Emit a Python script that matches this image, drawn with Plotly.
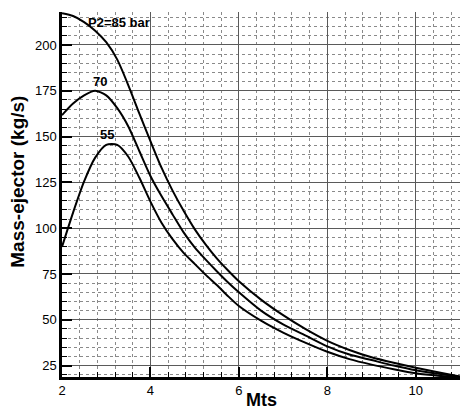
import plotly.graph_objects as go

# Mts values (x)
mts = [2.0, 2.25, 2.5, 2.75, 3.0, 3.25, 3.5, 3.75, 4.0, 4.25, 4.5, 4.75, 5.0, 5.25,
       5.5, 5.75, 6.0, 6.5, 7.0, 7.5, 8.0, 8.5, 9.0, 9.5, 10.0, 10.5, 11.0]

# Mass-ejector (kg/s) for P2 = 85, 70, 55 bar
m_85 = [217.3, 215.8, 212.5, 207.8, 201.5, 192.0, 178.0, 162.5, 147.5, 133.0, 120.5, 109.5, 99.5, 91.0,
        83.5, 77.0, 71.0, 61.0, 52.5, 45.0, 38.5, 33.5, 29.5, 26.5, 23.8, 21.3, 19.0]
m_70 = [161.7, 168.0, 172.5, 175.0, 172.5, 165.5, 155.5, 142.0, 128.5, 117.5, 107.5, 97.7, 89.5, 82.8,
        76.5, 70.5, 65.0, 55.0, 47.5, 41.5, 35.5, 31.0, 28.0, 25.0, 22.4, 20.5, 18.9]
m_55 = [89.8, 108.5, 125.5, 138.5, 145.5, 145.5, 139.0, 127.5, 114.5, 103.0, 94.0, 86.5, 80.5, 74.5,
        69.0, 63.0, 57.5, 49.5, 43.0, 37.5, 32.5, 28.5, 25.5, 23.0, 20.8, 19.5, 18.8]

x_ticks = [2, 4, 6, 8, 10]
y_ticks = [25, 50, 75, 100, 125, 150, 175, 200]

labels = [("P2=85 bar", 3.3, 212.0), ("70", 2.85, 180.3), ("55", 3.02, 151.4)]

FONT = "Arial, Liberation Sans, Helvetica, sans-serif"

fig = go.Figure()
for ys in (m_85, m_70, m_55):
    fig.add_trace(go.Scatter(x=mts, y=ys, mode="lines",
                             line=dict(color="black", width=2, shape="spline", smoothing=0.7),
                             showlegend=False, hoverinfo="skip", cliponaxis=True))

for txt, lx, ly in labels:
    fig.add_annotation(x=lx, y=ly, text="<b>%s</b>" % txt, showarrow=False,
                       font=dict(family=FONT, size=13, color="black"),
                       xanchor="center", yanchor="middle")

fig.add_annotation(xref="paper", yref="paper", x=-0.1106, y=0.535,
                   text="<b>Mass-ejector (kg/s)</b>", textangle=-90, showarrow=False,
                   font=dict(family=FONT, size=19, color="black"),
                   xanchor="center", yanchor="middle")
fig.add_annotation(xref="paper", yref="paper", x=0.501, y=-0.063,
                   text="<b>Mts</b>", showarrow=False,
                   font=dict(family=FONT, size=18, color="black"),
                   xanchor="center", yanchor="middle")

fig.update_xaxes(range=[2, 11], tickvals=x_ticks, ticktext=[str(v) for v in x_ticks],
                 showline=True, linecolor="black", linewidth=2.5, mirror=False,
                 ticks="inside", ticklen=10, tickwidth=2, tickcolor="black",
                 showgrid=True, gridcolor="#5a5a5a", gridwidth=1.3,
                 zeroline=False, tickfont=dict(family=FONT, size=13, color="black"),
                 minor=dict(dtick=0.4, tick0=2, showgrid=True, gridcolor="#8a8a8a",
                            griddash="dot", gridwidth=1, ticks="inside", ticklen=5,
                            tickcolor="black", tickwidth=1))
fig.update_yaxes(range=[18.75, 218], tickvals=y_ticks, ticktext=[str(v) for v in y_ticks],
                 showline=True, linecolor="black", linewidth=2.5, mirror=False,
                 ticks="inside", ticklen=10, tickwidth=2, tickcolor="black",
                 showgrid=True, gridcolor="#5a5a5a", gridwidth=1.3,
                 zeroline=False, tickfont=dict(family=FONT, size=13, color="black"),
                 minor=dict(dtick=5, tick0=0, showgrid=True, gridcolor="#8a8a8a",
                            griddash="dot", gridwidth=1, ticks="inside", ticklen=5,
                            tickcolor="black", tickwidth=1))

fig.update_layout(width=460, height=412, margin=dict(l=62, r=0, t=12, b=35),
                  plot_bgcolor="white", paper_bgcolor="white",
                  font=dict(family=FONT, color="black"))

fig.write_html("out.html")
